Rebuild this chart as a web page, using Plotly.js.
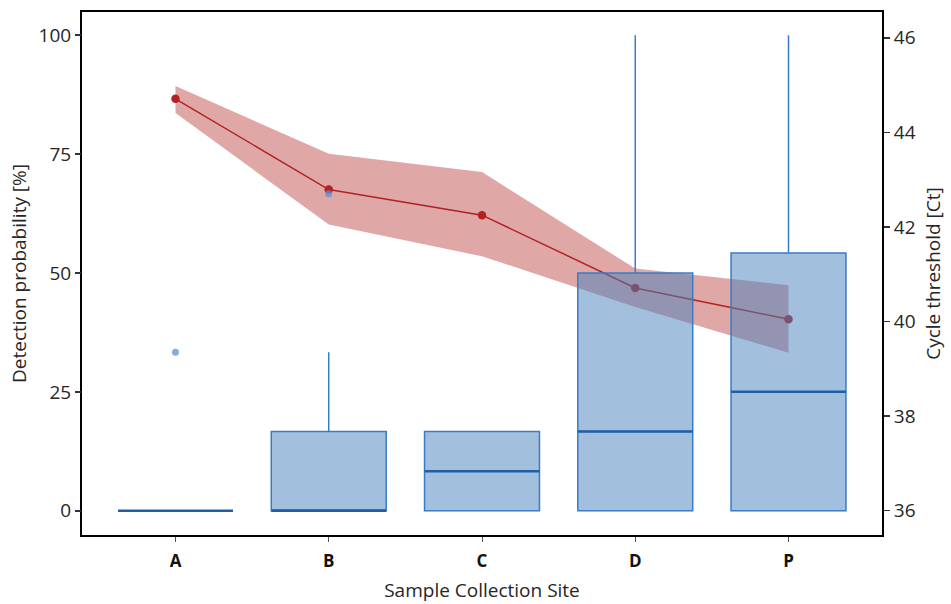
<!DOCTYPE html>
<html>
<head>
<meta charset="utf-8">
<script src="https://cdn.plot.ly/plotly-3.0.1.min.js"></script>
<style>html,body{margin:0;padding:0;background:#fff;}#chart{width:951px;height:604px;}</style>
</head>
<body>
<div id="chart"></div>
<script>
// ---- data ----
var sites = ["A", "B", "C", "D", "P"];
// Detection probability [%] box statistics
var q1 = [0, 0, 0, 0, 0];
var medians = [0, 0, 8.33, 16.67, 25];
var q3 = [0, 16.67, 16.67, 50, 54.17];
var lowerFence = [0, 0, 0, 0, 0];
var upperFence = [0, 33.33, 16.67, 100, 100];
var outlierSites = ["A", "B"];
var outlierValues = [33.33, 66.67];
// Cycle threshold [Ct] mean and band
var ctMean = [44.71, 42.79, 42.25, 40.71, 40.05];
var ctUpper = [44.98, 43.55, 43.16, 41.12, 40.77];
var ctLower = [44.41, 42.05, 41.38, 40.31, 39.34];
var ctTicks = [36, 38, 40, 42, 44, 46];
var probTicks = [0, 25, 50, 75, 100];

var FONT = "Open Sans, Noto Sans, DejaVu Sans, sans-serif";
var TXT = "#262626";
var boxW = 0.75;

var traces = [
  {type: "scatter", x: sites, y: ctLower, yaxis: "y", mode: "lines",
   line: {width: 0, color: "rgba(0,0,0,0)"}, showlegend: false, hoverinfo: "skip"},
  {type: "scatter", x: sites, y: ctUpper, yaxis: "y", mode: "lines", fill: "tonexty",
   fillcolor: "rgba(178,34,34,0.4)", line: {width: 0, color: "rgba(0,0,0,0)"}, showlegend: false},
  {type: "scatter", x: sites, y: ctMean, yaxis: "y", mode: "lines+markers",
   line: {color: "#b22222", width: 1.5}, marker: {color: "#b22222", size: 8.5}, showlegend: false},
  {type: "box", x: sites, q1: q1, median: medians, q3: q3,
   lowerfence: lowerFence, upperfence: upperFence, yaxis: "y2",
   width: boxW, whiskerwidth: 0, boxpoints: false,
   fillcolor: "rgba(70,130,190,0.5)", line: {color: "#3a7cc4", width: 1.5}, showlegend: false},
  {type: "scatter", x: outlierSites, y: outlierValues, yaxis: "y2", mode: "markers",
   marker: {color: "rgba(90,145,205,0.75)", size: 7}, showlegend: false}
];

var shapes = medians.map(function (m, i) {
  return {type: "line", xref: "x", yref: "y2", x0: i - boxW / 2, x1: i + boxW / 2, y0: m, y1: m,
          line: {color: "#1f5fa8", width: 2.5}, layer: "above"};
});

var layout = {
  width: 951, height: 604,
  margin: {l: 82, r: 69, t: 12, b: 69},
  paper_bgcolor: "#fff", plot_bgcolor: "#fff",
  font: {family: FONT, color: TXT, size: 19},
  showlegend: false,
  xaxis: {
    type: "category", categoryorder: "array", categoryarray: sites,
    range: [-0.61, 4.61], showgrid: false, zeroline: false,
    showline: true, mirror: true, linecolor: "#000", linewidth: 2,
    ticks: "outside", ticklen: 5, tickwidth: 1, tickcolor: "#555",
    ticklabelstandoff: 5,
    tickfont: {family: FONT, size: 17, color: "#111", weight: "bold"},
    title: {text: "Sample Collection Site", font: {family: FONT, size: 19, color: TXT}, standoff: 12}
  },
  yaxis: {
    side: "right", range: [35.487, 46.545], tickvals: ctTicks,
    showgrid: false, zeroline: false,
    showline: true, mirror: true, linecolor: "#000", linewidth: 2,
    ticks: "outside", ticklen: 6, tickwidth: 1.5, tickcolor: "#333",
    tickfont: {family: FONT, size: 19, color: TXT},
    title: {text: "Cycle threshold [Ct]", font: {family: FONT, size: 19, color: TXT}, standoff: 12}
  },
  yaxis2: {
    overlaying: "y", side: "left", range: [-5.1, 104.87], tickvals: probTicks,
    showgrid: false, zeroline: false, showline: false,
    ticks: "outside", ticklen: 6, tickwidth: 1.5, tickcolor: "#333",
    tickfont: {family: FONT, size: 19, color: TXT},
    title: {text: "Detection probability [%]", font: {family: FONT, size: 19, color: TXT}, standoff: 6}
  },
  shapes: shapes
};

Plotly.newPlot("chart", traces, layout, {displayModeBar: false, staticPlot: true});
</script>
</body>
</html>
